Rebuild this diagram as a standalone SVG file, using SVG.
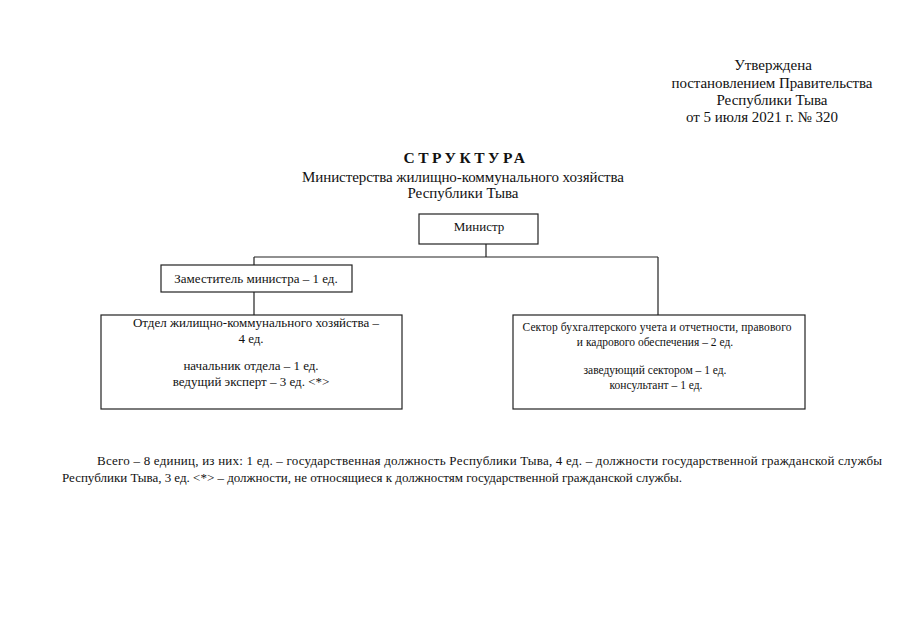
<svg xmlns="http://www.w3.org/2000/svg" width="905" height="640" viewBox="0 0 905 640">
<style>
text{font-family:"Liberation Serif","Times New Roman",serif;fill:#111;}
.hdr{font-size:15px;text-anchor:middle;}
.title{font-size:15.5px;font-weight:bold;text-anchor:middle;letter-spacing:3.5px;}
.box{fill:#fff;stroke:#222;stroke-width:1.2;}
.t{font-size:13px;text-anchor:middle;}
.ts{font-size:11.5px;text-anchor:middle;}
.foot{font-size:13px;}
.conn{fill:none;stroke:#222;stroke-width:1.2;}
</style>
<rect width="905" height="640" fill="#fff"/>
<g id="header">
<text class="hdr" x="773" y="70">Утверждена</text>
<text class="hdr" x="772" y="88" textLength="201">постановлением Правительства</text>
<text class="hdr" x="772" y="105">Республики Тыва</text>
<text class="hdr" x="762" y="122">от 5 июля 2021 г. № 320</text>
</g>
<g id="title">
<text class="title" x="466" y="163">СТРУКТУРА</text>
<text class="hdr" x="463" y="182" textLength="322">Министерства жилищно-коммунального хозяйства</text>
<text class="hdr" x="463" y="198">Республики Тыва</text>
</g>
<g id="connectors">
<path class="conn" d="M486 244V257M254 257H658M254 257V265M254 292V315M658 257V315"/>
</g>
<g id="minister">
<rect class="box" x="419" y="214" width="119" height="30"/>
<text class="t" x="479" y="231">Министр</text>
</g>
<g id="deputy">
<rect class="box" x="161" y="265" width="191" height="27"/>
<text class="t" x="256" y="283">Заместитель министра – 1 ед.</text>
</g>
<g id="dept">
<rect class="box" x="101" y="315" width="301" height="94"/>
<text class="t" x="256" y="327">Отдел жилищно-коммунального хозяйства –</text>
<text class="t" x="251" y="343">4 ед.</text>
<text class="t" x="251" y="370">начальник отдела – 1 ед.</text>
<text class="t" x="251" y="386">ведущий эксперт – 3 ед. &lt;*&gt;</text>
</g>
<g id="sector">
<rect class="box" x="513" y="315" width="292" height="94"/>
<text class="ts" x="657" y="331" textLength="269">Сектор бухгалтерского учета и отчетности, правового</text>
<text class="ts" x="655" y="346">и кадрового обеспечения – 2 ед.</text>
<text class="ts" x="655" y="374">заведующий сектором – 1 ед.</text>
<text class="ts" x="656" y="389">консультант – 1 ед.</text>
</g>
<g id="footer">
<text class="foot" x="97" y="465" textLength="785">Всего – 8 единиц, из них: 1 ед. – государственная должность Республики Тыва, 4 ед. – должности государственной гражданской службы</text>
<text class="foot" x="62" y="482" textLength="620">Республики Тыва, 3 ед. &lt;*&gt; – должности, не относящиеся к должностям государственной гражданской службы.</text>
</g>
</svg>
